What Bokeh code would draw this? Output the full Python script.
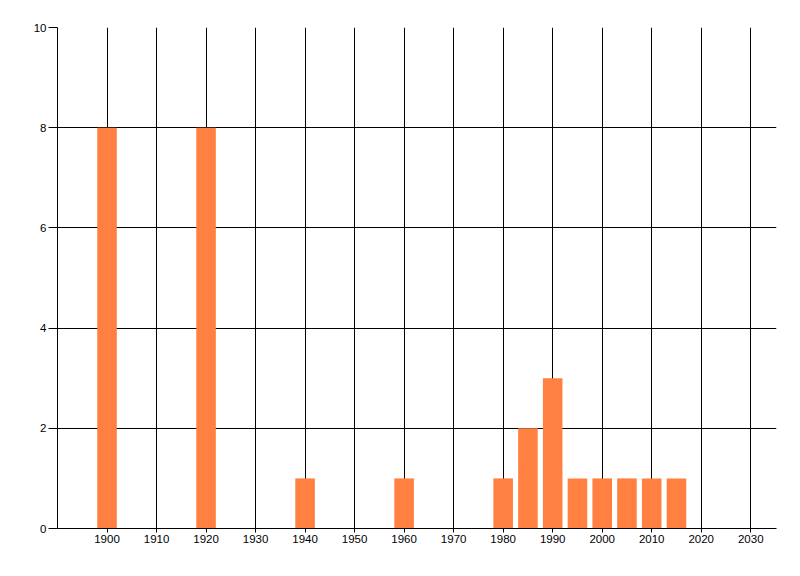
from bokeh.plotting import figure
from bokeh.models import Range1d, FixedTicker
from bokeh.embed import file_html
from bokeh.resources import INLINE

years = [1900, 1920, 1940, 1960, 1980, 1985, 1990, 1995, 2000, 2005, 2010, 2015]
counts = [8, 8, 1, 1, 1, 2, 3, 1, 1, 1, 1, 1]
x_ticks = list(range(1900, 2031, 10))
y_ticks = [0, 2, 4, 6, 8, 10]

p = figure(width=792, height=568, output_backend="svg", toolbar_location=None,
           x_range=Range1d(1890, 2035.2), y_range=Range1d(0, 10),
           min_border_left=57, min_border_right=16, min_border_top=27, min_border_bottom=40)
p.outline_line_color = None
p.background_fill_color = "white"

p.vbar(x=years, top=counts, width=3.95, color="#FF8040", line_color=None)

font = "Liberation Sans"
for ax, ticks in ((p.xaxis, x_ticks), (p.yaxis, y_ticks)):
    ax.ticker = FixedTicker(ticks=ticks)
    ax.axis_line_color = "black"
    ax.axis_line_width = 1
    ax.major_tick_line_color = "black"
    ax.minor_tick_line_color = None
    ax.major_tick_in = 0
    ax.major_label_text_font = font
    ax.major_label_text_font_size = "11.5px"
    ax.major_label_text_color = "black"

p.xaxis.major_tick_out = 4
p.xaxis.major_label_standoff = 2
p.yaxis.major_tick_out = 9
p.yaxis.major_label_standoff = 2
p.yaxis.major_label_orientation = "horizontal"

p.xgrid.ticker = FixedTicker(ticks=x_ticks)
p.ygrid.ticker = FixedTicker(ticks=y_ticks)
for g in (p.xgrid, p.ygrid):
    g.grid_line_color = "black"
    g.grid_line_width = 1

open("out.html", "w").write(file_html(p, INLINE))
